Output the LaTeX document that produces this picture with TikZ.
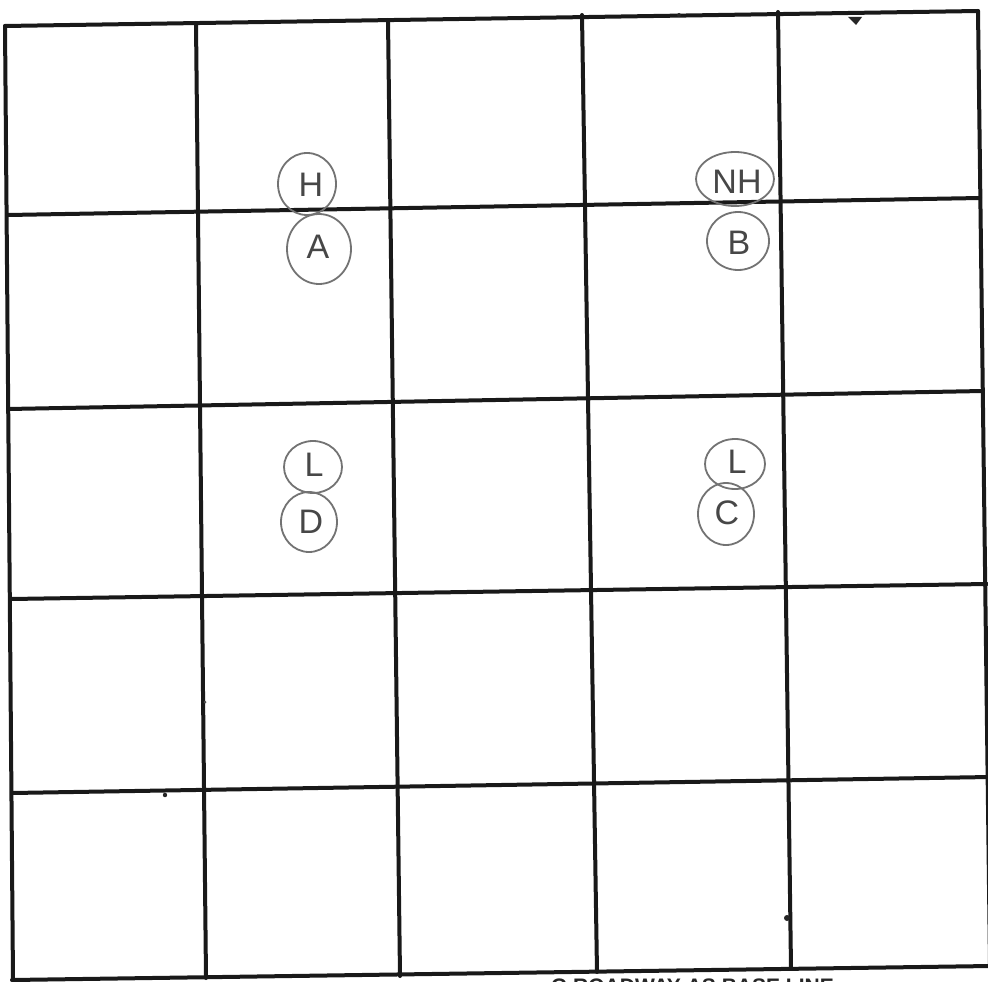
\documentclass[tikz,border=0pt]{standalone}
\usepackage{fontspec}
\setmainfont{Liberation Sans}
\begin{document}
\begin{tikzpicture}[x=1pt,y=-1pt,
  gridline/.style={line width=4pt,color=black!90,line cap=round},
  pencil/.style={draw=black!55,line width=1.8pt},
  letter/.style={text=black!72,font=\fontsize{34}{34}\selectfont}]
\useasboundingbox (0,0) rectangle (988,982);
\clip (0,0) rectangle (988,982);
\fill[white] (0,0) rectangle (988,982);
% horizontal lines
\coordinate (hl0) at (5,26);   \coordinate (hr0) at (978,11);
\coordinate (hl1) at (8,215);  \coordinate (hr1) at (980,198);
\coordinate (hl2) at (8,409);  \coordinate (hr2) at (983,391);
\coordinate (hl3) at (11,599); \coordinate (hr3) at (987,584);
\coordinate (hl4) at (12,793); \coordinate (hr4) at (990,777);
\coordinate (hl5) at (12,980); \coordinate (hr5) at (990,966);
% vertical lines
\coordinate (vt0) at (5,26);   \coordinate (vb0) at (13,980);
\coordinate (vt1) at (196,23); \coordinate (vb1) at (206,978);
\coordinate (vt2) at (388,20); \coordinate (vb2) at (400,976);
\coordinate (vt3) at (582,15); \coordinate (vb3) at (597,972);
\coordinate (vt4) at (778,12); \coordinate (vb4) at (791,968);
\coordinate (vt5) at (978,11); \coordinate (vb5) at (990,965);
\foreach \i in {0,...,5}{
  \draw[gridline] (hl\i) -- (hr\i);
  \draw[gridline] (vt\i) -- (vb\i);
}
% circled labels
\draw[pencil] (307,184) ellipse (29 and 31);
\node[letter] (h) at (311,185) {H};
\draw[pencil] (319,249) ellipse (32 and 35);
\node[letter] (a) at (318,247) {A};
\draw[pencil] (735,179) ellipse (39 and 27);
\node[letter] (nh) at (737,182) {NH};
\draw[pencil] (738,241) ellipse (31 and 29);
\node[letter] (b) at (739,243) {B};
\draw[pencil] (313,467) ellipse (29 and 26);
\node[letter] (l1) at (314,465) {L};
\draw[pencil] (309,522) ellipse (28 and 30);
\node[letter] (d) at (311,522) {D};
\draw[pencil] (735,464) ellipse (30 and 25);
\node[letter] (l2) at (737,462) {L};
\draw[pencil] (726,514) ellipse (28 and 31);
\node[letter] (c) at (727,513) {C};
% specks
\fill[black!85] (848,17) -- (862,17) -- (856,25) -- cycle;
\fill[black!85] (679,15) circle (2);
\fill[black!85] (787,918) circle (3);
\fill[black!85] (165,795) circle (2.2);
\fill[black!70] (205,702) circle (1.5);
% bottom text, cut off by the page edge as in the reference
\node[anchor=base east,inner sep=0pt,text=black!85,font=\fontsize{21}{21}\selectfont\bfseries] (base) at (834,993) {G ROADWAY AS BASE LINE};
\end{tikzpicture}
\end{document}
